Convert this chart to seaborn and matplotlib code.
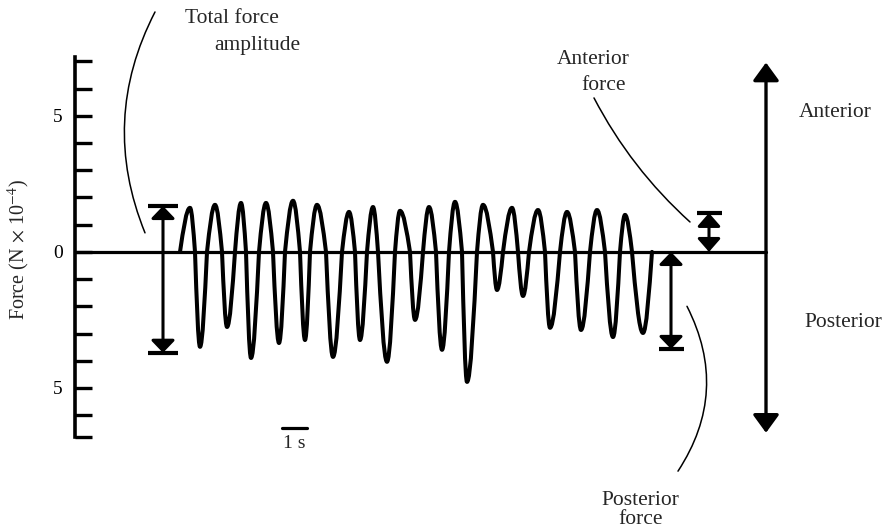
import matplotlib
matplotlib.use("Agg")
import matplotlib.pyplot as plt
from matplotlib.path import Path
from matplotlib.patches import PathPatch
import seaborn as sns

# force trace: zero crossings and the peak / trough between them
cross_t = [4.20, 4.80, 5.28, 5.88, 6.40, 6.84, 7.36, 7.92, 8.40, 9.00, 9.40,
           10.04, 10.68, 11.20, 11.68, 12.12, 12.80, 13.40, 13.92, 14.44, 14.96,
           15.48, 16.08, 16.72, 17.12, 17.72, 18.16, 18.80, 19.40, 20.00, 20.60,
           21.20, 21.80, 22.28, 23.08]
ext_t = [4.60, 5.00, 5.60, 6.08, 6.64, 7.04, 7.64, 8.16, 8.72, 9.20, 9.68, 10.32,
         10.96, 11.40, 11.92, 12.48, 13.00, 13.60, 14.16, 14.68, 15.20, 15.68,
         16.32, 16.88, 17.48, 17.92, 18.52, 19.00, 19.68, 20.24, 20.88, 21.52,
         22.00, 22.72]
ext_v = [1.62, -3.49, 1.73, -2.76, 1.80, -3.90, 1.80, -3.35, 1.88, -3.24, 1.73,
         -3.86, 1.47, -3.24, 1.65, -4.04, 1.51, -2.50, 1.65, -3.60, 1.84, -4.78,
         1.73, -1.40, 1.62, -1.62, 1.54, -2.79, 1.47, -2.87, 1.54, -3.13, 1.36,
         -2.98]

# y axis ticks (N x 10^-4), posterior side is labelled without sign
ytick_vals = [-6.8, -6, -5, -4, -3, -2, -1, 0, 1, 2, 3, 4, 5, 6, 7]
ytick_labels = ["", "", "5", "", "", "", "", "0", "", "", "", "", "5", "", ""]

# annotation bars: (x, low, high)
total_amp = (3.52, -3.71, 1.69)
anterior_force = (25.36, 0.0, 1.43)
posterior_force = (23.84, -3.57, 0.0)
direction_arrow = (27.64, -6.65, 6.96)

baseline_t = [0.0, 27.64]
scale_t = [8.28, 9.28]
scale_v = -6.47

sns.set_theme(style="white")
plt.rcParams['font.family'] = ['Liberation Serif', 'DejaVu Serif']
plt.rcParams['mathtext.fontset'] = 'stix'

fig = plt.figure(figsize=(8.86, 5.31), dpi=100)
ax = fig.add_axes([0, 0, 1, 1])
ax.set_xlim(-3.0, 32.44)
ax.set_ylim(-10.26, 9.26)

# axis: only a left spine with inward ticks
for s in ["top", "right", "bottom"]:
    ax.spines[s].set_visible(False)
ax.spines["left"].set_position(("data", 0))
ax.spines["left"].set_bounds(-6.8, 7.15)
ax.spines["left"].set_linewidth(2.6)
ax.spines["left"].set_color("black")
ax.set_xticks([])
ax.set_yticks(ytick_vals)
ax.set_yticklabels(ytick_labels)
ax.tick_params(axis="y", direction="in", length=12, width=2.4, color="black",
               pad=9, labelsize=14, labelcolor="black", left=True)
ax.text(-2.25, 0.07, r"Force (N $\times$ 10$^{-4}$)", rotation=90,
        ha="center", va="center", fontsize=14.5)

# zero line and time scale
sns.lineplot(x=baseline_t, y=[0, 0], color="black", linewidth=2.3, ax=ax)
sns.lineplot(x=scale_t, y=[scale_v, scale_v], color="black", linewidth=2.3, ax=ax)
ax.text(sum(scale_t) / 2, -7.2, "1 s", ha="center", va="baseline", fontsize=14)

# force trace, smooth half-waves through each extreme
verts = [(cross_t[0], 0.0)]
codes = [Path.MOVETO]
for i in range(len(ext_t)):
    c0, c1 = cross_t[i], cross_t[i + 1]
    te, v = ext_t[i], ext_v[i]
    d0, d1 = te - c0, c1 - te
    verts += [(c0 + 0.33 * d0, 0.5 * v), (te - 0.36 * d0, v), (te, v),
              (te + 0.36 * d1, v), (c1 - 0.33 * d1, 0.5 * v), (c1, 0.0)]
    codes += [Path.CURVE4] * 6
ax.add_patch(PathPatch(Path(verts, codes), facecolor="none", edgecolor="black",
                       linewidth=2.9, capstyle="round", joinstyle="round"))


def double_arrow(x, lo, hi, hw=0.72, hl=0.75, lw=2.2):
    ax.annotate("", xy=(x, hi), xytext=(x, lo),
                arrowprops=dict(arrowstyle=f"<|-|>,head_length={hl},head_width={hw}",
                                color="black", lw=lw, shrinkA=0, shrinkB=0,
                                mutation_scale=10))


# total force amplitude bar with caps
double_arrow(*total_amp)
ax.hlines([total_amp[1], total_amp[2]], total_amp[0] - 0.6, total_amp[0] + 0.6,
          color="black", linewidth=3)

# anterior force bar (cap on top)
double_arrow(*anterior_force, hw=0.7, hl=0.8)
ax.hlines([anterior_force[2]], anterior_force[0] - 0.5, anterior_force[0] + 0.5,
          color="black", linewidth=3)

# posterior force bar (cap at bottom)
double_arrow(*posterior_force)
ax.hlines([posterior_force[1]], posterior_force[0] - 0.5, posterior_force[0] + 0.5,
          color="black", linewidth=3)

# anterior / posterior direction arrow
double_arrow(*direction_arrow, hw=0.8, hl=1.1, lw=2.4)

# leader lines
leader = dict(arrowstyle="-", color="black", lw=1.1, shrinkA=0, shrinkB=0)
ax.annotate("", xy=(2.8, 0.70), xytext=(3.2, 8.82),
            arrowprops=dict(leader, connectionstyle="arc3,rad=0.23"))
ax.annotate("", xy=(24.6, 1.10), xytext=(20.76, 5.66),
            arrowprops=dict(leader, connectionstyle="arc3,rad=0.09"))
ax.annotate("", xy=(24.12, -8.06), xytext=(24.48, -2.0),
            arrowprops=dict(leader, connectionstyle="arc3,rad=-0.29"))

# labels
fs = 15.5
ax.text(6.26, 8.42, "Total force", ha="center", va="baseline", fontsize=fs)
ax.text(7.30, 7.43, "amplitude", ha="center", va="baseline", fontsize=fs)
ax.text(20.72, 6.91, "Anterior", ha="center", va="baseline", fontsize=fs)
ax.text(21.16, 5.96, "force", ha="center", va="baseline", fontsize=fs)
ax.text(30.40, 4.96, "Anterior", ha="center", va="baseline", fontsize=fs)
ax.text(30.72, -2.76, "Posterior", ha="center", va="baseline", fontsize=fs)
ax.text(22.60, -9.30, "Posterior", ha="center", va="baseline", fontsize=fs)
ax.text(22.62, -10.0, "force", ha="center", va="baseline", fontsize=fs)

fig.savefig("out.png", dpi=100, facecolor="white")
